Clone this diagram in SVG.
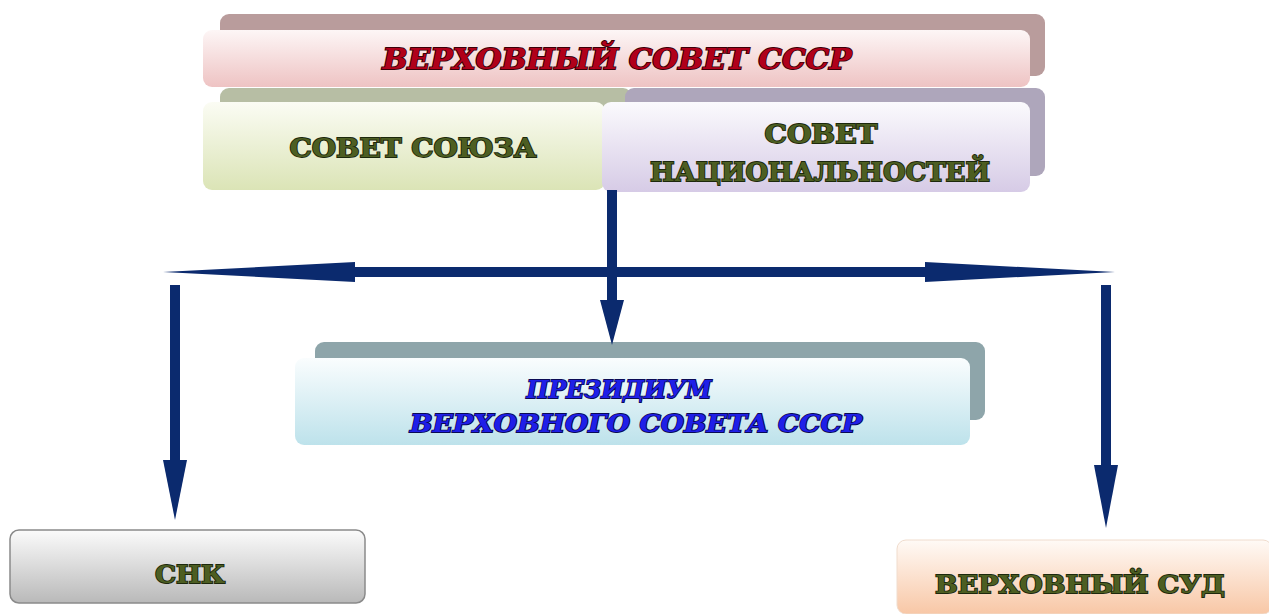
<svg xmlns="http://www.w3.org/2000/svg" width="1269" height="614" viewBox="0 0 1269 614">
<defs>
<linearGradient id="gPink" x1="0" y1="0" x2="0" y2="1"><stop offset="0" stop-color="#fdf6f6"/><stop offset="1" stop-color="#eec3c3"/></linearGradient>
<linearGradient id="gGreen" x1="0" y1="0" x2="0" y2="1"><stop offset="0" stop-color="#fbfcf4"/><stop offset="1" stop-color="#dbe4b6"/></linearGradient>
<linearGradient id="gPurple" x1="0" y1="0" x2="0" y2="1"><stop offset="0" stop-color="#fbfafd"/><stop offset="1" stop-color="#d6cbe6"/></linearGradient>
<linearGradient id="gBlue" x1="0" y1="0" x2="0" y2="1"><stop offset="0" stop-color="#fafdfe"/><stop offset="1" stop-color="#bde2eb"/></linearGradient>
<linearGradient id="gGrey" x1="0" y1="0" x2="0" y2="1"><stop offset="0" stop-color="#fbfbfb"/><stop offset="1" stop-color="#b9b9b9"/></linearGradient>
<linearGradient id="gPeach" x1="0" y1="0" x2="0" y2="1"><stop offset="0" stop-color="#fffaf6"/><stop offset="1" stop-color="#f8c7a6"/></linearGradient>
</defs>
<style>
.t{font-family:"DejaVu Serif","Liberation Serif",serif;font-weight:bold;text-anchor:middle;stroke-width:1.8;paint-order:stroke}
.red{fill:#b0001a;stroke:#3a0008;font-style:italic}
.grn{fill:#4d5e22;stroke:#1c280c}
.blu{fill:#1f1fe8;stroke:#0a0a55;font-style:italic}
.arr{fill:#0b2a6e}
</style>
<g id="verkhovny-sovet">
<rect x="220" y="14" width="825" height="62" rx="9" fill="#b99c9c"/>
<rect x="203" y="30" width="827" height="57" rx="9" fill="url(#gPink)"/>
<text class="t red" x="617" y="69" font-size="27" textLength="469" lengthAdjust="spacingAndGlyphs">ВЕРХОВНЫЙ  СОВЕТ  СССР</text>
</g>
<g id="sovet-soyuza">
<rect x="220" y="88" width="412" height="40" rx="9" fill="#b7bea4"/>
<rect x="203" y="102" width="402" height="88" rx="9" fill="url(#gGreen)"/>
<text class="t grn" x="413" y="157" font-size="26" textLength="247" lengthAdjust="spacingAndGlyphs">СОВЕТ СОЮЗА</text>
</g>
<g id="sovet-natsionalnostei">
<rect x="625" y="88" width="420" height="88" rx="9" fill="#aea6bb"/>
<rect x="602" y="102" width="428" height="90" rx="9" fill="url(#gPurple)"/>
<text class="t grn" x="821" y="143" font-size="26" textLength="113" lengthAdjust="spacingAndGlyphs">СОВЕТ</text>
<text class="t grn" x="820" y="181" font-size="26" textLength="340" lengthAdjust="spacingAndGlyphs">НАЦИОНАЛЬНОСТЕЙ</text>
</g>
<g id="prezidium">
<rect x="315" y="342" width="670" height="78" rx="9" fill="#8ea5aa"/>
<rect x="295" y="358" width="675" height="87" rx="9" fill="url(#gBlue)"/>
<text class="t blu" x="619" y="398" font-size="25" textLength="185" lengthAdjust="spacingAndGlyphs">ПРЕЗИДИУМ</text>
<text class="t blu" x="636" y="432" font-size="25" textLength="452" lengthAdjust="spacingAndGlyphs">ВЕРХОВНОГО СОВЕТА СССР</text>
</g>
<g id="snk">
<rect x="10" y="530" width="355" height="73" rx="9" fill="url(#gGrey)" stroke="#8a8a8a" stroke-width="1.5"/>
<text class="t grn" x="190" y="583" font-size="25" textLength="70" lengthAdjust="spacingAndGlyphs">СНК</text>
</g>
<g id="verkhovny-sud">
<rect x="897" y="540" width="375" height="74" rx="9" fill="url(#gPeach)" stroke="#f0dccd" stroke-width="1"/>
<text class="t grn" x="1080" y="593" font-size="25" textLength="290" lengthAdjust="spacingAndGlyphs">ВЕРХОВНЫЙ СУД</text>
</g>
<g id="connectors">
<rect class="arr" x="607" y="190" width="10" height="112"/>
<polygon class="arr" points="600,300 624,300 612,345"/>
<rect class="arr" x="350" y="267" width="580" height="10"/>
<polygon class="arr" points="163,272 355,262 355,282"/>
<polygon class="arr" points="1115,272 925,262 925,282"/>
<rect class="arr" x="170" y="285" width="10" height="178"/>
<polygon class="arr" points="163,460 187,460 175,520"/>
<rect class="arr" x="1101" y="285" width="10" height="182"/>
<polygon class="arr" points="1094,465 1118,465 1106,528"/>
</g>
</svg>
